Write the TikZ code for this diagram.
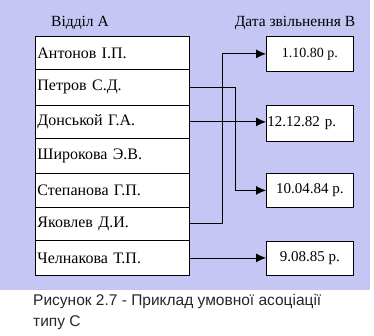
\documentclass[tikz,border=0pt]{standalone}
\usepackage{fontspec}
\setmainfont{Liberation Serif}
\newfontfamily\capfont{Liberation Sans}
\usetikzlibrary{arrows.meta}
\definecolor{bgblue}{RGB}{198,198,245}
\begin{document}
\begin{tikzpicture}[x=1pt,y=-1pt,
  rowbox/.style={draw=black,line width=0.8pt,fill=white,minimum width=154pt,inner sep=1pt,anchor=north west,align=left,text width=150pt,font=\fontsize{16}{18}\selectfont},
  datebox/.style={draw=black,line width=0.8pt,fill=white,minimum width=87pt,minimum height=35pt,inner sep=0pt,anchor=north west,font=\fontsize{15}{17}\selectfont},
  conn/.style={line width=0.8pt,-{Latex[length=10pt,width=9pt]}},
  hdr/.style={font=\fontsize{15.5}{17}\selectfont,inner sep=0pt}]
\useasboundingbox (0,0) rectangle (374,336);
\fill[bgblue] (0,0) rectangle (370,290);
\node[hdr] (ha) at (80,23) {Відділ А};
\node[hdr] (hb) at (295,23) {Дата звільнення В};
\node[rowbox,minimum height=33pt] (r1) at (35,36) {Антонов І.П.};
\node[rowbox,minimum height=36pt] (r2) at (35,69) {Петров С.Д.};
\node[rowbox,minimum height=33pt] (r3) at (35,105) {Донськой Г.А.};
\node[rowbox,minimum height=35pt] (r4) at (35,138) {Широкова Э.В.};
\node[rowbox,minimum height=34pt] (r5) at (35,173) {Степанова Г.П.};
\node[rowbox,minimum height=33pt] (r6) at (35,207) {Яковлев Д.И.};
\node[rowbox,minimum height=35pt] (r7) at (35,240) {Челнакова Т.П.};
\node[datebox,font=\fontsize{14}{16}\selectfont] (d1) at (266,36) {1.10.80 р.};
\node[datebox,minimum height=36pt,align=left,text width=85pt,inner sep=1pt] (d2) at (266,105) {12.12.82 р.};
\node[datebox,minimum height=34pt] (d3) at (266,173) {10.04.84 р.};
\node[datebox,minimum height=34pt] (d4) at (266,241) {9.08.85 р.};
\draw[conn] (r6.east) -- ++(33,0) |- (d1.west);
\draw[conn] (r2.east) -- ++(46,0) |- (d3.west);
\draw[conn] (r3.east) -- (r3.east -| d2.west);
\draw[conn] (r7.east) -- (r7.east -| d4.west);
\node[font=\capfont\fontsize{15.5}{21}\selectfont,color=black!85,anchor=north west,align=left,inner sep=0pt] (cap) at (33,294) {Рисунок 2.7 - Приклад умовної асоціації\\типу С};
\end{tikzpicture}
\end{document}
